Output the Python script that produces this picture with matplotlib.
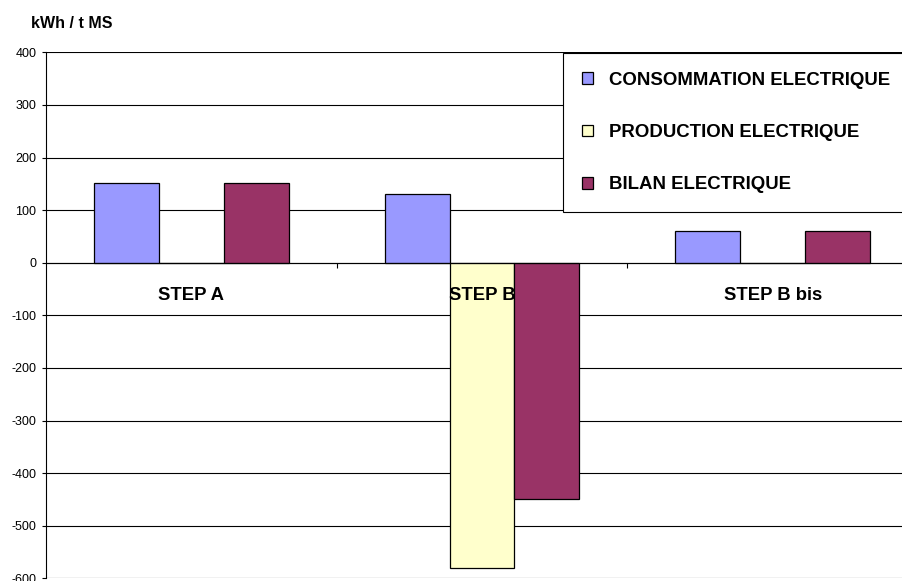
import matplotlib
matplotlib.use("Agg")
import matplotlib.pyplot as plt
import matplotlib.transforms as mtransforms
import numpy as np
from matplotlib.patches import Patch

plt.rcParams['font.family'] = ['Liberation Sans', 'DejaVu Sans']

categories = ["STEP A", "STEP B", "STEP B bis"]
series_names = ["CONSOMMATION ELECTRIQUE", "PRODUCTION ELECTRIQUE", "BILAN ELECTRIQUE"]
consommation = [152, 130, 60]
production = [0, -580, 0]
bilan = [152, -450, 60]
colors = ["#9999FF", "#FFFFCC", "#993366"]
y_ticks = [400, 300, 200, 100, 0, -100, -200, -300, -400, -500, -600]

W, H = 903, 581
fig = plt.figure(figsize=(W / 100, H / 100), dpi=100)
ax = fig.add_axes([46 / W, (H - 578.3) / H, 872 / W, (578.3 - 52.3) / H])

x = np.arange(len(categories))
bw = 0.2236
for k, (vals, col) in enumerate(zip([consommation, production, bilan], colors)):
    ax.bar(x + (k - 1) * bw, vals, width=bw, color=col, edgecolor="black",
           linewidth=0.9, zorder=2)

ax.set_xlim(-0.5, 2.5)
ax.set_ylim(-600, 400)
ax.set_yticks(y_ticks)
ax.set_yticklabels([str(v) for v in y_ticks])
ax.tick_params(axis="y", length=3, width=0.8, pad=4, direction="out", labelsize=9)

ax.set_xticks([0.5, 1.5])
ax.set_xticklabels([])
ax.tick_params(axis="x", length=3.6, width=0.8, direction="out")

# category labels drawn over the bars
label_tr = mtransforms.offset_copy(ax.transData, fig=fig, y=-17.5, units="points")
for xi, cat in zip(x, categories):
    ax.text(xi, 0, cat, transform=label_tr, ha="center", va="top",
            fontsize=13.3, fontweight="bold", zorder=6)

ax.yaxis.grid(True, color="black", linewidth=0.8)
ax.set_axisbelow(True)

ax.spines["bottom"].set_position(("data", 0))
ax.spines["bottom"].set_linewidth(0.8)
ax.spines["bottom"].set_zorder(3)
ax.spines["left"].set_linewidth(0.8)
ax.spines["top"].set_visible(False)
ax.spines["right"].set_visible(False)

handles = [Patch(facecolor=c, edgecolor="black", linewidth=0.9) for c in colors]
leg = ax.legend(handles, series_names, loc="upper left",
                bbox_to_anchor=(563 / W, (H - 53) / H, 0.45, 0),
                bbox_transform=fig.transFigure, mode="expand",
                prop={"size": 13.4, "weight": "bold"}, frameon=True,
                fancybox=False, framealpha=1, borderaxespad=0,
                handlelength=0.6, handleheight=0.6, handletextpad=0.85,
                labelspacing=1.9, borderpad=1.0)
leg.get_frame().set_edgecolor("black")
leg.get_frame().set_linewidth(0.8)
leg.set_zorder(7)

fig.text(31 / W, 1 - 23 / H, "kWh / t MS", fontsize=11.5, fontweight="bold",
         va="center", ha="left")

fig.savefig("out.png", dpi=100)
